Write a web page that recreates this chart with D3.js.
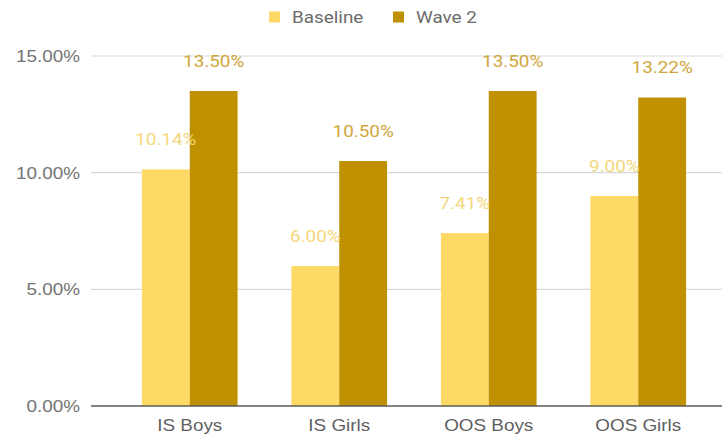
<!DOCTYPE html>
<html>
<head>
<meta charset="utf-8">
<script src="https://cdn.jsdelivr.net/npm/d3@7"></script>
<style>
  html, body { margin: 0; padding: 0; background: #fff; }
  svg { display: block; font-family: Roboto, "Noto Sans", sans-serif; }
</style>
</head>
<body>
<svg id="chart" width="723" height="437"></svg>
<script>
// Share of respondents by group, baseline vs. second wave (percent)
const categories = ["IS Boys", "IS Girls", "OOS Boys", "OOS Girls"];
const seriesNames = ["Baseline", "Wave 2"];
const baseline = [10.14, 6.00, 7.41, 9.00];
const wave2 = [13.50, 10.50, 13.50, 13.22];
const yTicks = [0, 5, 10, 15];

const colors = { "Baseline": "#ffd966", "Wave 2": "#bf9000" };
const labelColors = { "Baseline": "#f3d77c", "Wave 2": "#d0a63a" };

// Text is drawn slightly widened horizontally
const FONT = "16px";
const WIDEN = "scale(1.18,1)";

const svg = d3.select("#chart");
const plot = { left: 91, right: 722, top: 56, bottom: 406 };

const y = d3.scaleLinear().domain([0, 15]).range([plot.bottom, plot.top]);

const x0 = d3.scaleBand()
  .domain(categories)
  .range([115, 713])
  .paddingInner(0.36)
  .paddingOuter(0.18);

const x1 = d3.scaleBand()
  .domain(seriesNames)
  .range([0, x0.bandwidth()])
  .padding(0);

// Horizontal gridlines
svg.append("g")
  .selectAll("line")
  .data(yTicks.filter(d => d !== 0))
  .join("line")
  .attr("x1", plot.left)
  .attr("x2", plot.right)
  .attr("y1", d => y(d))
  .attr("y2", d => y(d))
  .attr("stroke", "#d9d9d9")
  .attr("stroke-width", 1.2);

// Y-axis tick labels
const yAxis = d3.axisLeft(y)
  .tickValues(yTicks)
  .tickFormat(d => d3.format(".2f")(d) + "%")
  .tickSize(0)
  .tickPadding(0);
const yAxisG = svg.append("g")
  .attr("transform", `translate(${plot.left - 11},0)`)
  .call(yAxis);
yAxisG.select(".domain").remove();
yAxisG.selectAll("text")
  .attr("fill", "#737373")
  .style("font-size", FONT)
  .attr("dy", "0.35em")
  .attr("transform", WIDEN);

// Grouped bars
const rows = categories.map((c, i) => ({
  category: c,
  values: [
    { series: "Baseline", value: baseline[i] },
    { series: "Wave 2", value: wave2[i] }
  ]
}));

const groups = svg.append("g")
  .selectAll("g")
  .data(rows)
  .join("g")
  .attr("transform", d => `translate(${x0(d.category)},0)`);

groups.selectAll("rect")
  .data(d => d.values)
  .join("rect")
  .attr("x", d => x1(d.series))
  .attr("y", d => y(d.value))
  .attr("width", x1.bandwidth())
  .attr("height", d => y(0) - y(d.value))
  .attr("fill", d => colors[d.series]);

// Value labels above each bar
groups.selectAll("text")
  .data(d => d.values)
  .join("text")
  .attr("transform", d =>
    `translate(${x1(d.series) + x1.bandwidth() / 2},${y(d.value) - 30}) ${WIDEN}`)
  .attr("dy", "0.35em")
  .attr("text-anchor", "middle")
  .attr("fill", d => labelColors[d.series])
  .style("font-size", FONT)
  .text(d => d3.format(".2f")(d.value) + "%");

// Baseline axis line
svg.append("line")
  .attr("x1", plot.left)
  .attr("x2", plot.right)
  .attr("y1", y(0))
  .attr("y2", y(0))
  .attr("stroke", "#5a5a5a")
  .attr("stroke-width", 1.3);

// Category labels
const xAxis = d3.axisBottom(x0).tickSize(0).tickPadding(0);
const xAxisG = svg.append("g")
  .attr("transform", `translate(0,${plot.bottom + 19})`)
  .call(xAxis);
xAxisG.select(".domain").remove();
xAxisG.selectAll("text")
  .attr("fill", "#5f5f5f")
  .attr("y", 0)
  .attr("dy", "0.35em")
  .style("font-size", FONT)
  .attr("transform", WIDEN);

// Legend
const legendItems = [
  { name: "Baseline", x: 269 },
  { name: "Wave 2", x: 393 }
];
const li = svg.append("g")
  .selectAll("g")
  .data(legendItems)
  .join("g")
  .attr("transform", d => `translate(${d.x},17)`);
li.append("rect")
  .attr("x", 0)
  .attr("y", -5.5)
  .attr("width", 11)
  .attr("height", 11)
  .attr("fill", d => colors[d.name]);
li.append("text")
  .attr("transform", `translate(23,0) ${WIDEN}`)
  .attr("dy", "0.35em")
  .attr("fill", "#6b6b6b")
  .style("font-size", FONT)
  .text(d => d.name);
</script>
</body>
</html>
